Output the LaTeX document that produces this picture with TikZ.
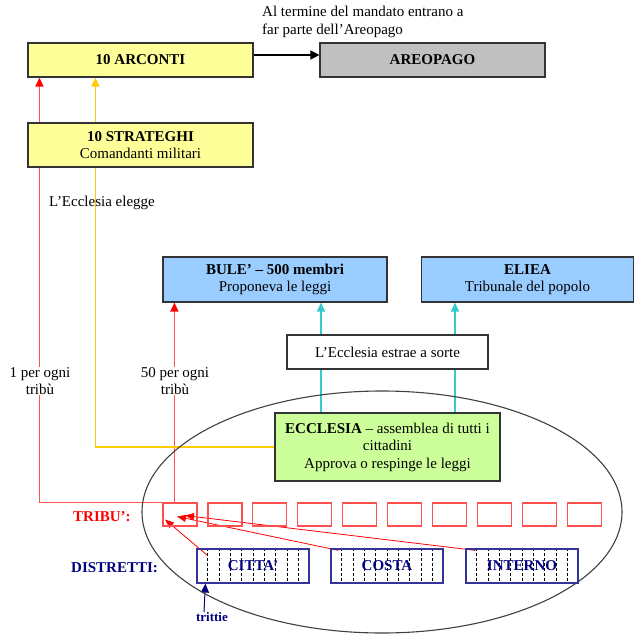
\documentclass[tikz,border=0pt]{standalone}
\usepackage{fontspec}
\setmainfont{Liberation Serif}
\usetikzlibrary{arrows.meta,backgrounds,calc}

\definecolor{boxyellow}{HTML}{FFFF99}
\definecolor{boxgray}{HTML}{C0C0C0}
\definecolor{boxblue}{HTML}{99CCFF}
\definecolor{boxgreen}{HTML}{CCFF99}
\definecolor{linered}{HTML}{FF5050}
\definecolor{lineyellow}{HTML}{FFCC00}
\definecolor{linecyan}{HTML}{33CCCC}
\definecolor{distblue}{HTML}{333399}
\definecolor{textnavy}{HTML}{000080}

\begin{document}
\begin{tikzpicture}[x=1pt, y=-1pt,
  every node/.style={font=\fontsize{15}{17.5}\selectfont},
  office/.style={draw=black!80, line width=1.1pt, align=center, inner sep=0pt,
    minimum width=225pt, minimum height=34pt},
  tribebox/.style={draw=linered, line width=1.2pt, minimum width=34pt,
    minimum height=23pt, inner sep=0pt},
  distbox/.style={draw=distblue, line width=1.2pt, minimum width=112pt,
    minimum height=34pt, inner sep=0pt, text=textnavy},
  redarrow/.style={draw=linered, line width=1.3pt, -{Triangle[length=9pt,width=8pt,color=red]}},
  redthin/.style={draw=red, line width=0.8pt, -{Triangle[length=9pt,width=7pt]}},
  yellowarrow/.style={draw=lineyellow, line width=1.4pt, -{Triangle[length=9pt,width=8pt]}},
  cyanarrow/.style={draw=linecyan, line width=1.4pt, -{Triangle[length=9pt,width=8pt]}},
  trittieline/.style={draw=black, line width=0.8pt, dash pattern=on 3pt off 2pt},
  note/.style={align=center, inner sep=0pt, fill=white}]

\useasboundingbox (0,0) rectangle (635,635);

\node[office, fill=boxyellow] (arconti) at (140.5,60) {\textbf{10 ARCONTI}};
\node[office, fill=boxgray] (areopago) at (432.5,60) {\textbf{AREOPAGO}};
\node[office, fill=boxyellow, minimum height=44pt] (strateghi) at (140.5,145)
  {\textbf{10 STRATEGHI}\\Comandanti militari};
\node[office, fill=boxblue, minimum width=224pt, minimum height=45pt] (bule) at (275,279.5)
  {\textbf{BULE’ – 500 membri}\\Proponeva le leggi};
\node[office, fill=boxblue, minimum width=212pt, minimum height=45pt] (eliea) at (527.5,279.5)
  {\textbf{ELIEA}\\Tribunale del popolo};
\node[office, fill=white, minimum width=201pt] (sorte) at (387.5,352) {L’Ecclesia estrae a sorte};
\node[office, fill=boxgreen, minimum height=68pt] (ecclesia) at (387.5,447)
  {\textbf{ECCLESIA} – assemblea di tutti i\\cittadini\\Approva o respinge le leggi};

\node[align=left, anchor=west, inner sep=0pt] (mandato) at (262,22)
  {Al termine del mandato entrano a\\far parte dell’Areopago};
\node[anchor=west, inner sep=0pt] (elegge) at (49,203) {L’Ecclesia elegge};

\draw[black!75, line width=1.1pt] (382,512) ellipse [x radius=240pt, y radius=121pt];

\foreach \i in {1,...,10}
  \node[tribebox] (tribe\i) at ({180+44.9*(\i-1)},514.5) {};
\node[anchor=west, inner sep=0pt, text=red] (tribu) at (73,517) {\textbf{TRIBU’:}};

\node[distbox] (citta) at (253,566) {\textbf{CITTA’}};
\node[distbox] (costa) at (387,566) {\textbf{COSTA}};
\node[distbox] (interno) at (522,566) {\textbf{INTERNO}};
\node[anchor=west, inner sep=0pt, text=textnavy] (distretti) at (71,568) {\textbf{DISTRETTI:}};
\node[inner sep=0pt, text=textnavy, font=\fontsize{13}{15}\selectfont] (trittie) at (212,617) {\textbf{trittie}};

\begin{pgfonlayer}{background}
\foreach \d in {citta,costa,interno}
  \foreach \k in {1,...,9}
    \draw[trittieline] ($(\d.north west)!\k/10!(\d.north east)$) -- ($(\d.south west)!\k/10!(\d.south east)$);

\draw[-{Triangle[length=9pt,width=9pt]}, line width=1.2pt] ([yshift=5pt]arconti.east) -- ([yshift=5pt]areopago.west);
\draw[redarrow] (tribe1.north west) -| ([xshift=12pt]arconti.south west);
\draw[redarrow] ([xshift=12pt]tribe1.north west) -- ([xshift=12pt]tribe1.north west |- bule.south);
\draw[yellowarrow] (ecclesia.west) -| ([xshift=68pt]arconti.south west);
\draw[cyanarrow] ([xshift=-66.5pt]ecclesia.north) -- ([xshift=-66.5pt]ecclesia.north |- bule.south);
\draw[cyanarrow] ([xshift=67.5pt]ecclesia.north) -- ([xshift=67.5pt]ecclesia.north |- eliea.south);

\draw[redthin] ([xshift=11pt,yshift=-7pt]citta.north west) -- ([xshift=-15pt,yshift=-5pt]tribe1.center);
\draw[redthin] ([xshift=8pt,yshift=-2pt]costa.north west) -- ([xshift=-3pt,yshift=-2pt]tribe1.center);
\draw[redthin] ([xshift=10pt,yshift=-2pt]interno.north west) -- ([xshift=5pt,yshift=-1pt]tribe1.center);
\draw[draw=textnavy, line width=1pt, -{Triangle[length=9pt,width=8pt]}] ([xshift=-8pt]trittie.north) -- ([xshift=9pt]citta.south west);
\end{pgfonlayer}

\node[note] (unoper) at (40,381) {1 per ogni\\tribù};
\node[note] (cinquantaper) at (175,381) {50 per ogni\\tribù};

\end{tikzpicture}
\end{document}
